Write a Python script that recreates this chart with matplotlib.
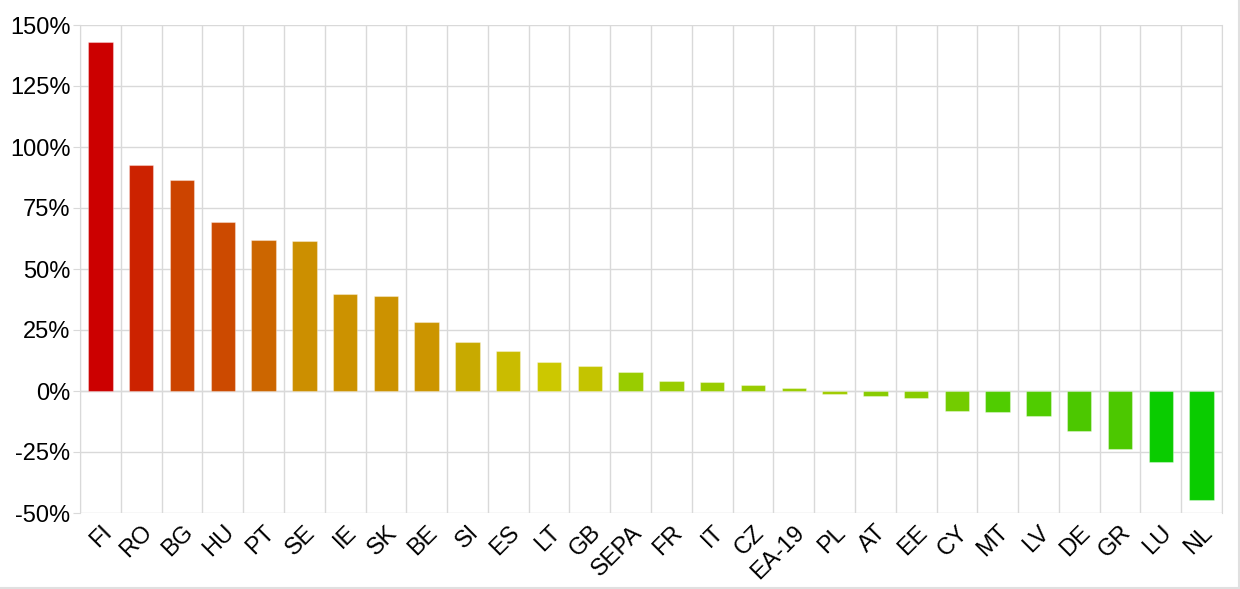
import matplotlib
matplotlib.use('Agg')
import matplotlib.pyplot as plt
from matplotlib.ticker import FuncFormatter
from matplotlib.lines import Line2D
import numpy as np

plt.rcParams['font.family'] = ['Liberation Sans', 'DejaVu Sans']

countries = ['FI', 'RO', 'BG', 'HU', 'PT', 'SE', 'IE', 'SK', 'BE', 'SI', 'ES', 'LT', 'GB', 'SEPA',
             'FR', 'IT', 'CZ', 'EA-19', 'PL', 'AT', 'EE', 'CY', 'MT', 'LV', 'DE', 'GR', 'LU', 'NL']
values = [142.9, 92.6, 86.6, 69.3, 61.9, 61.5, 39.8, 38.9, 28.3, 20.1, 16.4, 11.9, 10.2, 7.7,
          4.1, 3.7, 2.5, 1.2, -1.2, -1.9, -3.0, -8.3, -8.5, -10.1, -16.4, -23.6, -29.0, -44.7]
colors = ['#CC0000', '#CC2200', '#CC4400', '#CC4A00', '#CC6600', '#CC8F00', '#CC9200', '#CC9200',
          '#CC9500', '#C8AA00', '#CABC00', '#CCC800', '#C4C400', '#99CC00', '#99CC00', '#99CC00',
          '#99CC00', '#99CC00', '#A0CC00', '#88CC00', '#88CC00', '#73CC00', '#50CC00', '#50CC00',
          '#4CC800', '#4CC800', '#0ACC00', '#0ACC00']

fig = plt.figure(figsize=(12.4, 5.89), dpi=100)
ax = fig.add_axes([80/1240, 1-513/589, 1142/1240, 488/589])

x = np.arange(len(countries))
ax.bar(x, values, width=0.6, color=colors, edgecolor=(1, 1, 1, 0.35), linewidth=0.8, zorder=3)

ax.set_xlim(-0.5, len(countries) - 0.5)
ax.set_ylim(-50, 150)
ax.set_yticks(np.arange(-50, 151, 25))
ax.yaxis.set_major_formatter(FuncFormatter(lambda v, p: f'{v:.0f}%'))
ax.set_xticks(x)
ax.set_xticklabels(countries, rotation=45, ha='right', va='top', rotation_mode='anchor')
ax.set_xticks(np.arange(-0.5, len(countries), 1), minor=True)

ax.grid(True, which='major', axis='y', color='#D9D9D9', linewidth=1, zorder=0)
ax.grid(True, which='minor', axis='x', color='#D9D9D9', linewidth=1, zorder=0)
ax.axhline(0, color='#D9D9D9', linewidth=1, zorder=1)

for s in ax.spines.values():
    s.set_color('#D9D9D9')
ax.spines['top'].set_visible(False)
ax.spines['bottom'].set_visible(False)

ax.tick_params(axis='y', length=5, color='#D9D9D9', labelsize=17, pad=2)
ax.tick_params(axis='x', which='major', length=0, labelsize=17, pad=6)
ax.tick_params(axis='x', which='minor', length=0)

# light border on right and bottom of the picture
fig.add_artist(Line2D([0, 1238.5/1240], [1.5/589, 1.5/589], color='#E0E0E0', lw=1.5))
fig.add_artist(Line2D([1238.5/1240, 1238.5/1240], [1.5/589, 1], color='#E0E0E0', lw=1.5))

fig.savefig('out.png', dpi=100)
